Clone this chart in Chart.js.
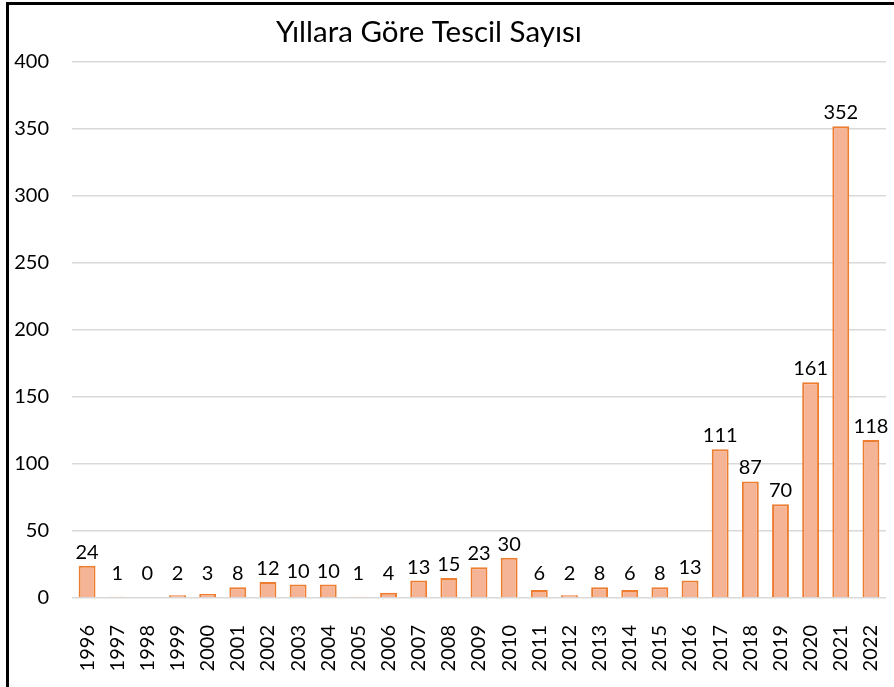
<!DOCTYPE html>
<html>
<head>
<meta charset="utf-8">
<script src="https://cdn.jsdelivr.net/npm/chart.js@4/dist/chart.umd.min.js"></script>
<style>
  html, body { margin: 0; padding: 0; background: #fff; }
  #frame {
    position: absolute; left: 6px; top: 2px;
    width: 885px; height: 682px;
    border-top: 3px solid #000; border-left: 3px solid #000;
  }
  #chart { display: block; }
</style>
</head>
<body>
<div id="frame"><canvas id="chart" width="885" height="682"></canvas></div>
<script>
// Yearly registration counts
const chartTitle = 'Yıllara Göre Tescil Sayısı';
const years = ['1996', '1997', '1998', '1999', '2000', '2001', '2002', '2003', '2004',
  '2005', '2006', '2007', '2008', '2009', '2010', '2011', '2012', '2013', '2014',
  '2015', '2016', '2017', '2018', '2019', '2020', '2021', '2022'];
const counts = [24, 1, 0, 2, 3, 8, 12, 10, 10, 1, 4, 13, 15, 23, 30, 6, 2, 8, 6, 8, 13,
  111, 87, 70, 161, 352, 118];
const yMax = 400;
const yStep = 50;

const FONT = 'Lato, "Open Sans", sans-serif';

// Draw the value above every bar
const valueLabels = {
  id: 'valueLabels',
  afterDatasetsDraw(chart) {
    const { ctx } = chart;
    const meta = chart.getDatasetMeta(0);
    const base = chart.scales.y.getPixelForValue(0);
    ctx.save();
    ctx.font = '20px ' + FONT;
    ctx.fillStyle = '#000';
    ctx.textAlign = 'center';
    ctx.textBaseline = 'alphabetic';
    meta.data.forEach((bar, i) => {
      const y = Math.min(bar.y - 7, base - 18);
      ctx.fillText(String(counts[i]), bar.x, y);
    });
    ctx.restore();
  }
};

// Title, placed a bit left of centre as in the original
const titleText = {
  id: 'titleText',
  afterDraw(chart) {
    const { ctx } = chart;
    ctx.save();
    ctx.font = '29.5px ' + FONT;
    ctx.fillStyle = '#000';
    ctx.textAlign = 'center';
    ctx.textBaseline = 'alphabetic';
    ctx.fillText(chartTitle, 420, 37);
    ctx.restore();
  }
};

new Chart(document.getElementById('chart'), {
  type: 'bar',
  data: {
    labels: years,
    datasets: [{
      data: counts,
      backgroundColor: '#F6B497',
      borderColor: '#ED7D31',
      borderWidth: 2,
      barPercentage: 0.56,
      categoryPercentage: 1.0
    }]
  },
  options: {
    responsive: false,
    animation: false,
    layout: { padding: { top: 57, right: 8, left: 0, bottom: 0 } },
    plugins: {
      legend: { display: false },
      tooltip: { enabled: false },
      title: { display: false }
    },
    scales: {
      x: {
        grid: { display: false },
        border: { display: false },
        ticks: {
          color: '#000',
          font: { family: FONT, size: 20 },
          minRotation: 90,
          maxRotation: 90,
          autoSkip: false,
          padding: 19
        },
        afterFit(scale) {
          scale.height = 89;
          scale.paddingLeft = 0;
          scale.paddingRight = 0;
        }
      },
      y: {
        min: 0,
        max: yMax,
        grid: { color: '#D9D9D9', lineWidth: 1.5, drawTicks: false },
        border: { display: false },
        ticks: {
          stepSize: yStep,
          color: '#000',
          font: { family: FONT, size: 20 },
          padding: 23
        },
        afterFit(scale) {
          scale.width = 63;
          scale.paddingTop = 0;
          scale.paddingBottom = 0;
        }
      }
    }
  },
  plugins: [valueLabels, titleText]
});
</script>
</body>
</html>
